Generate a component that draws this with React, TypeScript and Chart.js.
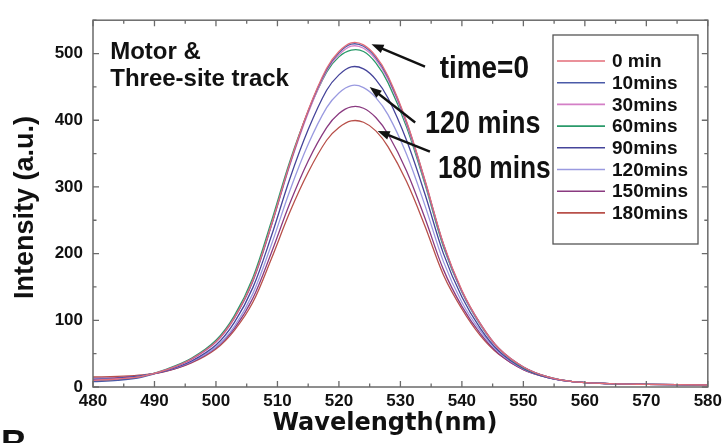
import React, { useEffect, useRef } from 'react';
import { Chart, registerables } from 'chart.js';

Chart.register(...registerables);

// Wavelength sampling (nm)
const wavelengths = [480, 484, 488, 492, 496, 500, 503, 506, 509, 512, 515, 518, 520, 522, 524, 526, 528, 531, 534, 537, 540, 543, 546, 550, 554, 558, 564, 570, 580];

const seriesLabels = ['0 min', '10mins', '30mins', '60mins', '90mins', '120mins', '150mins', '180mins'];
const seriesColors = ['#e36d78', '#4a5aa8', '#d47fc6', '#2a9a6a', '#45449a', '#9a9ae0', '#8a3a80', '#b8504a'];

const min0 = [10, 12, 16, 26, 42, 68, 104, 160, 243, 335, 415, 478, 503, 516, 513, 496, 466, 398, 310, 215, 145, 95, 58, 30, 15, 8, 5, 4, 3];
const min10 = [8, 10, 15, 26, 42, 68, 104, 159, 242, 334, 414, 476, 501, 514, 511, 494, 464, 397, 309, 214, 144, 95, 58, 30, 15, 8, 5, 4, 3];
const min30 = [10, 12, 16, 26, 41, 67, 103, 158, 241, 332, 411, 474, 498, 511, 508, 491, 461, 394, 307, 213, 143, 94, 57, 30, 15, 8, 5, 4, 3];
const min60 = [9, 11, 16, 27, 43, 70, 107, 164, 248, 338, 413, 472, 495, 505, 503, 486, 456, 390, 304, 210, 142, 93, 57, 29, 15, 8, 5, 4, 3];
const min90 = [11, 13, 17, 25, 39, 63, 97, 149, 226, 312, 386, 445, 468, 480, 477, 461, 433, 370, 289, 200, 135, 88, 54, 28, 14, 8, 5, 4, 3];
const min120 = [12, 13, 17, 25, 38, 60, 91, 140, 213, 294, 364, 419, 441, 452, 449, 434, 408, 349, 272, 188, 127, 84, 52, 27, 14, 8, 5, 4, 3];
const min150 = [13, 14, 17, 24, 37, 59, 88, 133, 201, 275, 339, 389, 410, 420, 418, 404, 379, 324, 253, 176, 121, 80, 50, 26, 14, 8, 5, 4, 3];
const min180 = [15, 16, 18, 24, 36, 57, 85, 127, 192, 262, 322, 370, 389, 399, 397, 384, 360, 308, 241, 168, 117, 77, 49, 26, 14, 8, 5, 4, 3];

const seriesValues = [min0, min10, min30, min60, min90, min120, min150, min180];

const xMajorTicks = [480, 490, 500, 510, 520, 530, 540, 550, 560, 570, 580];
const xMinorTicks = [485, 495, 505, 515, 525, 535, 545, 555, 565, 575];
const yMajorTicks = [0, 100, 200, 300, 400, 500];
const yMinorTicks = [50, 150, 250, 350, 450, 550];

const SANS = '"Liberation Sans", Arial, sans-serif';

function condensedText(ctx: CanvasRenderingContext2D, text: string, x: number, y: number, sx: number) {
  ctx.save();
  ctx.translate(x, y);
  ctx.scale(sx, 1);
  ctx.fillText(text, 0, 0);
  ctx.restore();
}

function arrow(ctx: CanvasRenderingContext2D, x1: number, y1: number, x2: number, y2: number) {
  const ang = Math.atan2(y2 - y1, x2 - x1);
  const head = 12;
  const hw = 4.5;
  const c = Math.cos(ang);
  const s = Math.sin(ang);
  ctx.beginPath();
  ctx.moveTo(x1, y1);
  ctx.lineTo(x2 - c * head * 0.8, y2 - s * head * 0.8);
  ctx.lineWidth = 2.4;
  ctx.strokeStyle = '#111';
  ctx.stroke();
  ctx.beginPath();
  ctx.moveTo(x2, y2);
  ctx.lineTo(x2 - head * c + hw * s, y2 - head * s - hw * c);
  ctx.lineTo(x2 - head * c - hw * s, y2 - head * s + hw * c);
  ctx.closePath();
  ctx.fillStyle = '#111';
  ctx.fill();
}

const overlayPlugin = {
  id: 'overlay',
  afterDraw(chart: any) {
    const ctx: CanvasRenderingContext2D = chart.ctx;
    const { left, right, top, bottom } = chart.chartArea;
    const xs = chart.scales.x;
    const ys = chart.scales.y;
    ctx.save();

    // frame
    ctx.strokeStyle = '#6a6a6a';
    ctx.lineWidth = 1.5;
    ctx.strokeRect(left, top, right - left, bottom - top);

    // inward ticks
    ctx.lineWidth = 1.3;
    const tick = (vals: number[], len: number) => {
      vals.forEach((v) => {
        const px = xs.getPixelForValue(v);
        ctx.beginPath();
        ctx.moveTo(px, bottom);
        ctx.lineTo(px, bottom - len);
        ctx.moveTo(px, top);
        ctx.lineTo(px, top + len);
        ctx.stroke();
      });
    };
    tick(xMajorTicks, 6);
    tick(xMinorTicks, 3.5);
    const ytick = (vals: number[], len: number) => {
      vals.forEach((v) => {
        const py = ys.getPixelForValue(v);
        ctx.beginPath();
        ctx.moveTo(left, py);
        ctx.lineTo(left + len, py);
        ctx.moveTo(right, py);
        ctx.lineTo(right - len, py);
        ctx.stroke();
      });
    };
    ytick(yMajorTicks, 6);
    ytick(yMinorTicks, 3.5);

    // axis titles
    ctx.fillStyle = '#111';
    ctx.save();
    ctx.translate(26, (top + bottom) / 2 + 4);
    ctx.rotate(-Math.PI / 2);
    ctx.textAlign = 'center';
    ctx.textBaseline = 'middle';
    ctx.font = 'bold 27px ' + SANS;
    ctx.fillText('Intensity (a.u.)', 0, 0);
    ctx.restore();

    ctx.textAlign = 'center';
    ctx.textBaseline = 'middle';
    ctx.font = 'bold 24px "DejaVu Sans", sans-serif';
    ctx.fillText('Wavelength(nm)', 385, 424);

    // panel letter
    ctx.textAlign = 'left';
    ctx.textBaseline = 'alphabetic';
    ctx.font = 'bold 36px ' + SANS;
    ctx.fillText('B', 1, 456);

    // inset labels
    ctx.font = 'bold 24px ' + SANS;
    ctx.fillText('Motor &', xs.getPixelForValue(482.8), ys.getPixelForValue(492.5));
    ctx.fillText('Three-site track', xs.getPixelForValue(482.8), ys.getPixelForValue(451.6));

    // annotations
    ctx.font = 'bold 31px ' + SANS;
    condensedText(ctx, 'time=0', xs.getPixelForValue(536.4), ys.getPixelForValue(463.6), 0.9);
    condensedText(ctx, '120 mins', xs.getPixelForValue(534.0), ys.getPixelForValue(381.6), 0.87);
    condensedText(ctx, '180 mins', xs.getPixelForValue(536.1), ys.getPixelForValue(314), 0.85);

    arrow(ctx, xs.getPixelForValue(534.0), ys.getPixelForValue(480.5), xs.getPixelForValue(525.3), ys.getPixelForValue(514));
    arrow(ctx, xs.getPixelForValue(532.4), ys.getPixelForValue(396.6), xs.getPixelForValue(525.0), ys.getPixelForValue(450));
    arrow(ctx, xs.getPixelForValue(534.8), ys.getPixelForValue(353), xs.getPixelForValue(526.3), ys.getPixelForValue(384));

    // legend box
    const bx = 553, by = 35, bw = 145, bh = 209;
    ctx.fillStyle = '#fff';
    ctx.fillRect(bx, by, bw, bh);
    ctx.strokeStyle = '#555';
    ctx.lineWidth = 1.3;
    ctx.strokeRect(bx, by, bw, bh);
    ctx.font = 'bold 19px ' + SANS;
    ctx.textBaseline = 'middle';
    ctx.textAlign = 'left';
    chart.data.datasets.forEach((ds: any, i: number) => {
      const yy = by + 26 + i * 21.7;
      ctx.strokeStyle = ds.borderColor;
      ctx.lineWidth = 1.6;
      ctx.beginPath();
      ctx.moveTo(bx + 4, yy);
      ctx.lineTo(bx + 52, yy);
      ctx.stroke();
      ctx.fillStyle = '#111';
      ctx.fillText(ds.label, bx + 59, yy + 1);
    });

    ctx.restore();
  },
};

export default function App() {
  const ref = useRef<HTMLCanvasElement | null>(null);
  useEffect(() => {
    if (!ref.current) return;
    const chart = new Chart(ref.current, {
      type: 'line',
      data: {
        datasets: seriesLabels.map((label, i) => ({
          label,
          data: wavelengths.map((x, j) => ({ x, y: seriesValues[i][j] })),
          borderColor: seriesColors[i],
          backgroundColor: seriesColors[i],
          borderWidth: 1.3,
          pointRadius: 0,
          fill: false,
          tension: 0.35,
        })),
      },
      options: {
        responsive: false,
        animation: false,
        layout: { padding: { top: 7, right: 18, left: 0, bottom: 0 } },
        plugins: { legend: { display: false }, tooltip: { enabled: false } },
        scales: {
          x: {
            type: 'linear',
            min: 480,
            max: 580,
            ticks: {
              stepSize: 10,
              font: { family: SANS, size: 17, weight: 'bold' },
              color: '#111',
              padding: 4,
              maxRotation: 0,
            },
            grid: { display: false, drawTicks: false },
            border: { display: false },
            afterFit: (scale: any) => {
              scale.height = 56;
            },
          },
          y: {
            type: 'linear',
            min: 0,
            max: 550,
            ticks: {
              stepSize: 100,
              includeBounds: false,
              font: { family: SANS, size: 17, weight: 'bold' },
              color: '#111',
              padding: 10,
            },
            grid: { display: false, drawTicks: false },
            border: { display: false },
            afterFit: (scale: any) => {
              scale.width = 93;
            },
          },
        },
      },
      plugins: [overlayPlugin],
    });
    return () => chart.destroy();
  }, []);
  return (
    <div style={{ position: 'fixed', left: 0, top: 0, width: 726, height: 443, background: '#fff' }}>
      <canvas ref={ref} width={726} height={443} style={{ width: 726, height: 443 }} />
    </div>
  );
}
